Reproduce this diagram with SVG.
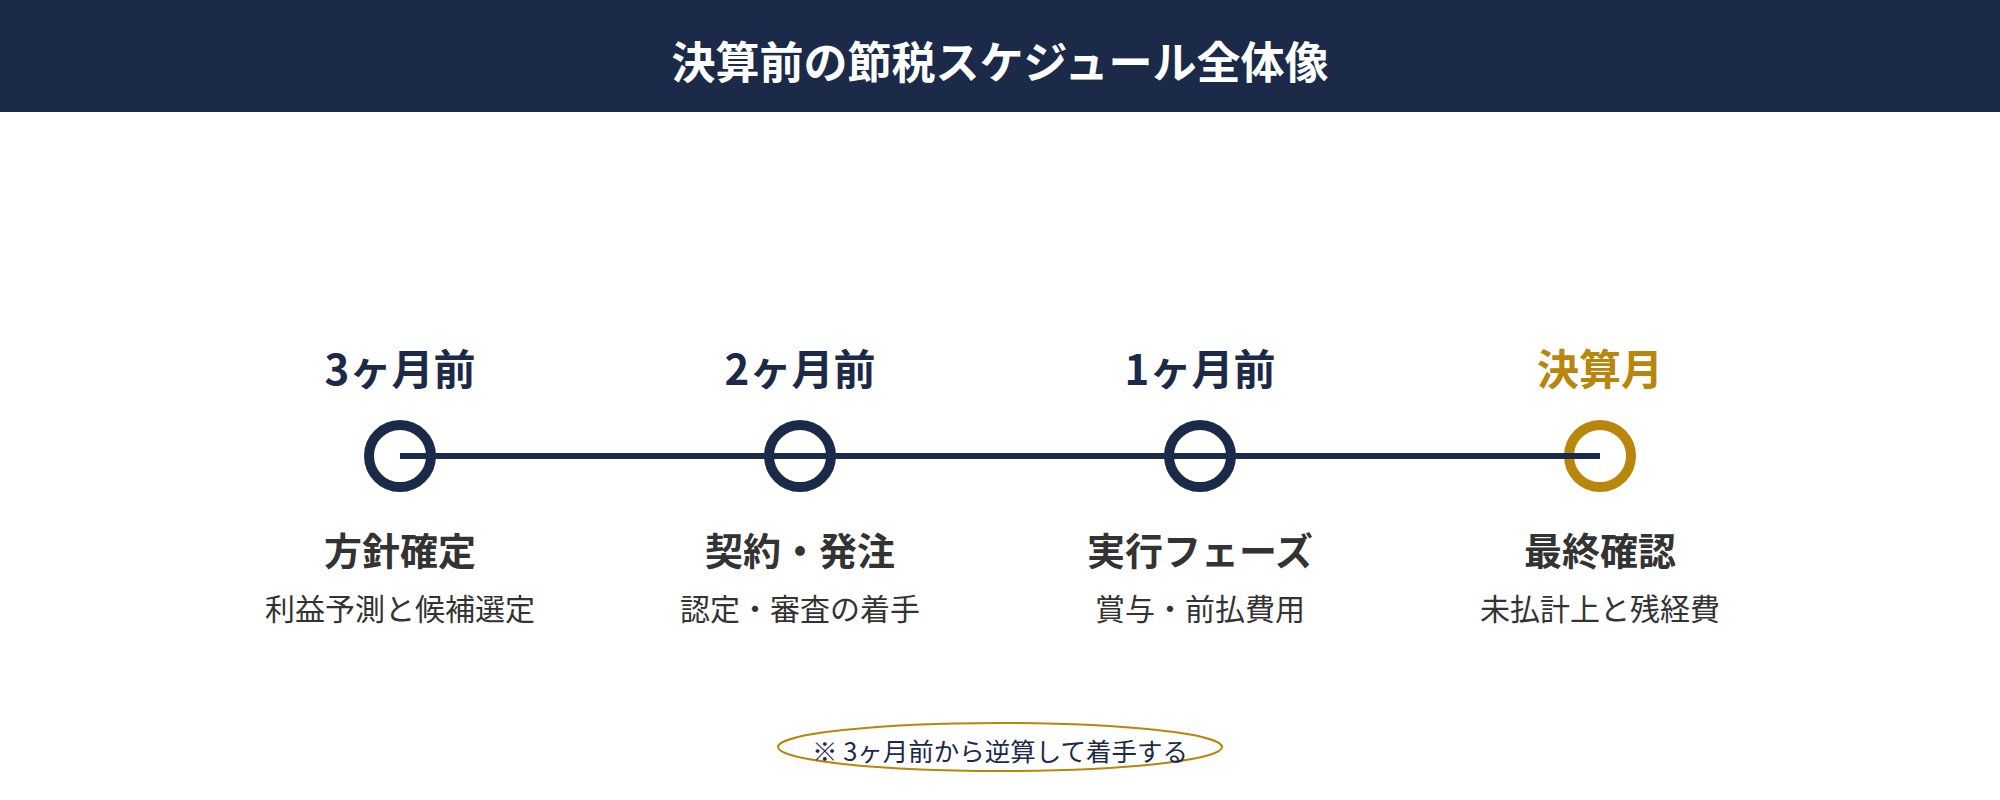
<svg xmlns="http://www.w3.org/2000/svg" width="2000" height="800" viewBox="0 0 2000 800">
  <style>
    text { font-family: "Noto Sans CJK JP", "Noto Sans", sans-serif; text-anchor: middle; }
    .title { font-size: 44px; font-weight: 700; fill: #ffffff; }
    .month { font-size: 42px; font-weight: 700; fill: #1c2a4a; }
    .month.gold { fill: #b8860b; }
    .label { font-size: 38px; font-weight: 700; fill: #333333; }
    .sub { font-size: 30px; font-weight: 400; fill: #333333; }
    .note { font-size: 25.5px; font-weight: 400; fill: #1c2a4a; }
    .ring { fill: #ffffff; stroke: #1c2a4a; stroke-width: 10; }
    .ring.gold { stroke: #b8860b; }
    .line { stroke: #1c2a4a; stroke-width: 6; fill: none; }
  </style>
  <rect x="0" y="0" width="2000" height="800" fill="#ffffff"/>
  <g id="header">
    <rect x="0" y="0" width="2000" height="112" fill="#1c2a4a"/>
    <text class="title" x="1000" y="79">決算前の節税スケジュール全体像</text>
  </g>
  <g id="node-3m">
    <text class="month" x="400" y="385">3ヶ月前</text>
    <circle class="ring" cx="400" cy="456" r="31"/>
    <text class="label" x="400" y="565">方針確定</text>
    <text class="sub" x="400" y="620">利益予測と候補選定</text>
  </g>
  <g id="node-2m">
    <text class="month" x="800" y="385">2ヶ月前</text>
    <circle class="ring" cx="800" cy="456" r="31"/>
    <text class="label" x="800" y="565">契約・発注</text>
    <text class="sub" x="800" y="620">認定・審査の着手</text>
  </g>
  <g id="node-1m">
    <text class="month" x="1200" y="385">1ヶ月前</text>
    <circle class="ring" cx="1200" cy="456" r="31"/>
    <text class="label" x="1200" y="565">実行フェーズ</text>
    <text class="sub" x="1200" y="620">賞与・前払費用</text>
  </g>
  <g id="node-final">
    <text class="month gold" x="1600" y="385">決算月</text>
    <circle class="ring gold" cx="1600" cy="456" r="31"/>
    <text class="label" x="1600" y="565">最終確認</text>
    <text class="sub" x="1600" y="620">未払計上と残経費</text>
  </g>
  <g id="connectors">
    <line class="line" x1="400" y1="456" x2="1600" y2="456"/>
  </g>
  <g id="note">
    <ellipse cx="1000" cy="747" rx="222" ry="24" fill="#ffffff" stroke="#b8860b" stroke-width="2"/>
    <text class="note" x="1000" y="761">※ 3ヶ月前から逆算して着手する</text>
  </g>
</svg>
